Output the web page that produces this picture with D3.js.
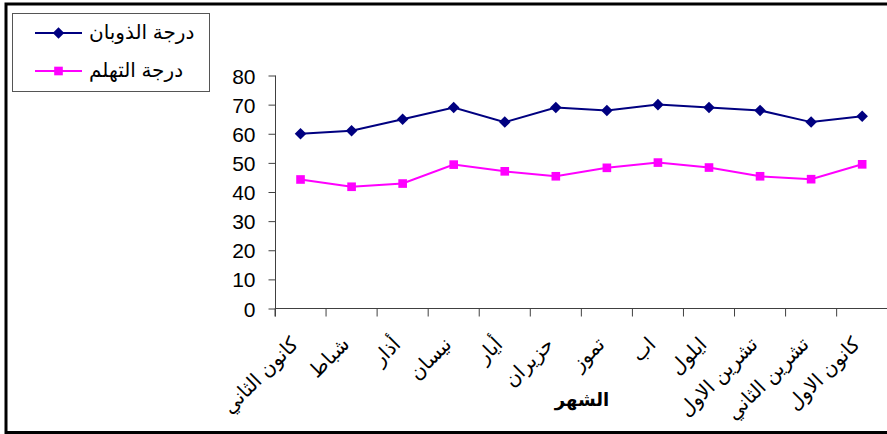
<!DOCTYPE html>
<html>
<head>
<meta charset="utf-8">
<script src="https://cdn.jsdelivr.net/npm/d3@7"></script>
<style>
  html, body { margin: 0; padding: 0; background: #fff; }
  svg { display: block; }
  text { font-family: "Liberation Sans", Arial, "DejaVu Sans", sans-serif; fill: #000; }
</style>
</head>
<body>
<svg id="chart" width="887" height="434"></svg>
<script>
// Months of the year (Arabic, Levantine names)
const months = ["كانون الثاني", "شباط", "أذار", "نيسان", "أيار", "حزيران",
                "تموز", "اب", "ايلول", "تشرين الاول", "تشرين الثاني", "كانون الاول"];
// Melting point per month
const meltValues = [60, 61, 65, 69, 64, 69, 68, 70, 69, 68, 64, 66];
// Congealing point per month
const congealValues = [44.3, 41.8, 42.9, 49.4, 47.1, 45.4, 48.3, 50.1, 48.4, 45.4, 44.4, 49.5];
const yTicks = [0, 10, 20, 30, 40, 50, 60, 70, 80];
const seriesNames = ["درجة الذوبان", "درجة التهلم"];
const xTitle = "الشهر";

const series = [
  { name: seriesNames[0], values: meltValues, color: "#000080", symbol: d3.symbolDiamond2, size: 85 },
  { name: seriesNames[1], values: congealValues, color: "#FF00FF", symbol: d3.symbolSquare2, size: 95 }
];

const svg = d3.select("#chart");

// outer frame
svg.append("rect")
  .attr("x", 6).attr("y", 4)
  .attr("width", 950).attr("height", 428.5)
  .attr("fill", "none").attr("stroke", "#000").attr("stroke-width", 3);

const x = d3.scaleBand().domain(months).range([275, 887.7]).paddingInner(0).paddingOuter(0);
const y = d3.scaleLinear().domain([0, 80]).range([308.5, 75.5]);
const bw = x.bandwidth();

// y axis
const gy = svg.append("g")
  .attr("transform", "translate(275.5,0)")
  .call(d3.axisLeft(y).tickValues(yTicks).tickSize(7).tickPadding(13).tickSizeOuter(0));
gy.select(".domain").attr("stroke", "#404040").attr("d", `M0,${y(80)}V${y(0) + 8}`);
gy.selectAll(".tick line").attr("stroke", "#404040");
gy.selectAll(".tick text").style("font-size", "21px").attr("dy", "0.36em");

// x axis: ticks sit on category boundaries, labels at centres
const gx = svg.append("g")
  .attr("transform", `translate(0,${y(0)})`)
  .call(d3.axisBottom(x).tickSize(8).tickSizeOuter(0));
gx.select(".domain").attr("stroke", "#404040").attr("d", `M275,0H887`);
gx.selectAll(".tick line").attr("stroke", "#404040")
  .attr("x1", -bw / 2).attr("x2", -bw / 2);
gx.selectAll(".tick text")
  .style("font-size", "20px")
  .attr("text-anchor", "end")
  .attr("y", null).attr("dy", null)
  .attr("transform", "translate(-1,37) rotate(-45)");

// axis title
svg.append("text")
  .attr("x", 582).attr("y", 406)
  .attr("text-anchor", "middle")
  .style("font-size", "18px").style("font-weight", "bold")
  .text(xTitle);

const line = d3.line()
  .x((d, i) => x(months[i]) + bw / 2)
  .y(d => y(d));

series.forEach(s => {
  svg.append("path")
    .datum(s.values)
    .attr("fill", "none")
    .attr("stroke", s.color)
    .attr("stroke-width", 2)
    .attr("d", line);
  svg.append("g").selectAll("path")
    .data(s.values)
    .join("path")
    .attr("transform", (d, i) => `translate(${x(months[i]) + bw / 2},${y(d)})`)
    .attr("d", d3.symbol().type(s.symbol).size(s.size))
    .attr("fill", s.color);
});

// legend
const legend = svg.append("g");
legend.append("rect")
  .attr("x", 12.5).attr("y", 13.5).attr("width", 197).attr("height", 78)
  .attr("fill", "#fff").attr("stroke", "#555").attr("stroke-width", 1);
const legendY = [33, 71];
series.forEach((s, i) => {
  const g = legend.append("g").attr("transform", `translate(0,${legendY[i]})`);
  g.append("line").attr("x1", 35).attr("x2", 82).attr("y1", 0).attr("y2", 0)
    .attr("stroke", s.color).attr("stroke-width", 2);
  g.append("path").attr("transform", "translate(58.5,0)")
    .attr("d", d3.symbol().type(s.symbol).size(s.size)).attr("fill", s.color);
  g.append("text").attr("x", 89).attr("y", 0).attr("dy", "0.32em")
    .style("font-size", "20px").text(s.name);
});
</script>
</body>
</html>
